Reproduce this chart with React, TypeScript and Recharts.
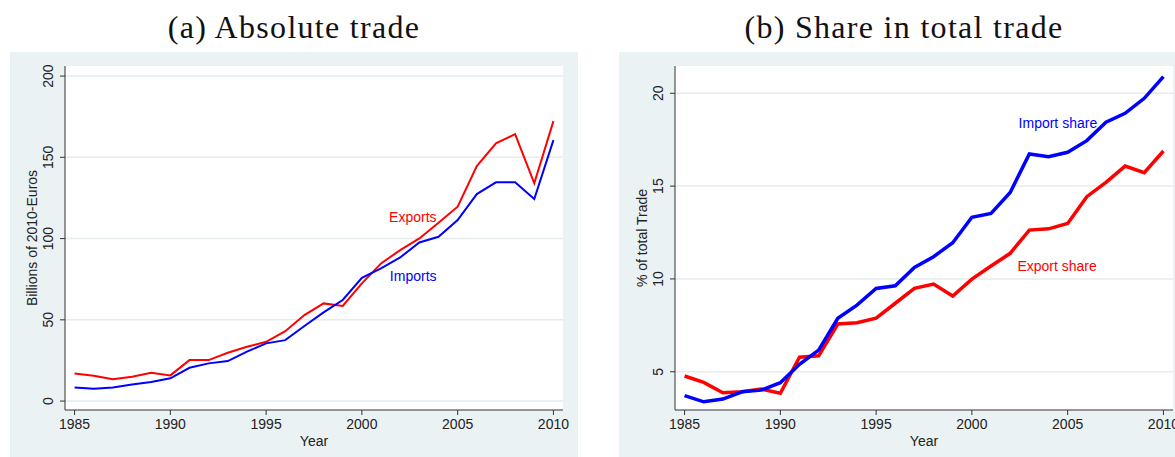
import React from 'react';
import { LineChart, Line, XAxis, YAxis, CartesianGrid, ReferenceDot } from 'recharts';

const years = [1985, 1986, 1987, 1988, 1989, 1990, 1991, 1992, 1993, 1994, 1995, 1996, 1997, 1998, 1999, 2000, 2001, 2002, 2003, 2004, 2005, 2006, 2007, 2008, 2009, 2010];
const exportsBn = [17.0, 15.6, 13.5, 15.0, 17.4, 15.8, 25.2, 25.2, 29.7, 33.4, 36.5, 43.0, 52.9, 60.1, 58.5, 72.4, 84.7, 92.9, 100.1, 109.7, 119.6, 144.6, 158.6, 164.3, 134.0, 172.3];
const importsBn = [8.4, 7.6, 8.4, 10.2, 11.7, 14.0, 20.5, 23.2, 24.6, 30.4, 35.5, 37.5, 46.2, 54.6, 62.2, 75.9, 81.6, 88.4, 97.6, 101.1, 111.4, 127.4, 134.6, 134.6, 124.3, 160.6];
const exportShare = [4.77, 4.43, 3.87, 3.92, 4.07, 3.84, 5.78, 5.86, 7.57, 7.64, 7.89, 8.69, 9.49, 9.72, 9.08, 9.99, 10.7, 11.38, 12.63, 12.7, 12.99, 14.43, 15.2, 16.08, 15.72, 16.89];
const importShare = [3.71, 3.38, 3.53, 3.92, 4.01, 4.41, 5.4, 6.17, 7.88, 8.59, 9.49, 9.63, 10.62, 11.2, 11.95, 13.32, 13.53, 14.66, 16.73, 16.58, 16.82, 17.45, 18.44, 18.92, 19.73, 20.9];
const yearTicks = [1985, 1990, 1995, 2000, 2005, 2010];
const absTicks = [0, 50, 100, 150, 200];
const shareTicks = [5, 10, 15, 20];

const absData = years.map((y, i) => ({ year: y, exp: exportsBn[i], imp: importsBn[i] }));
const shareData = years.map((y, i) => ({ year: y, exp: exportShare[i], imp: importShare[i] }));

const SANS = '"Liberation Sans", Arial, sans-serif';
const SERIF = '"Liberation Serif", "DejaVu Serif", serif';
const PANEL_BG = '#eaf2f3';
const GRID = '#e4ecee';
const AXIS = '#333333';

const RotTick = (props: any) => {
  const { x, y, payload } = props;
  const tx = x - 5;
  return (
    <text x={tx} y={y} transform={`rotate(-90, ${tx}, ${y})`} textAnchor="middle" fontSize={14} fill="#222" fontFamily={SANS}>
      {payload.value}
    </text>
  );
};

const XTick = (props: any) => {
  const { x, y, payload } = props;
  return (
    <text x={x} y={y + 12} textAnchor="middle" fontSize={14} fill="#222" fontFamily={SANS}>
      {payload.value}
    </text>
  );
};

const annot = (value: string, color: string) => (props: any) => {
  const { viewBox } = props;
  const cx = viewBox.x + (viewBox.width || 0) / 2;
  const cy = viewBox.y + (viewBox.height || 0) / 2;
  return (
    <text x={cx} y={cy} dy={5} textAnchor="middle" fontSize={14} fill={color} fontFamily={SANS}>
      {value}
    </text>
  );
};

const titleStyle: React.CSSProperties = {
  position: 'absolute', top: 8, textAlign: 'center', fontFamily: SERIF, fontSize: 32,
  letterSpacing: '1.3px', lineHeight: '38px', color: '#111', whiteSpace: 'nowrap',
};

export default function App() {
  return (
    <div style={{ position: 'absolute', left: 0, top: 0, width: 1175, height: 457, background: 'white', overflow: 'hidden' }}>
      <div style={{ ...titleStyle, left: 0, width: 588 }}>
        (a) Absolute trade
      </div>
      <div style={{ ...titleStyle, left: 633, width: 542 }}>
        (b) Share in total trade
      </div>

      <div style={{ position: 'absolute', left: 10, top: 52, width: 568, height: 405, background: PANEL_BG }}>
        <LineChart width={568} height={405} data={absData} margin={{ top: 14, right: 15, bottom: 17, left: 15 }}>
          <CartesianGrid horizontal={true} vertical={false} fill="#ffffff" stroke={GRID} strokeWidth={1.5} horizontalValues={absTicks} />
          <XAxis dataKey="year" type="number" domain={[1984.5, 2010.5]} ticks={yearTicks} allowDataOverflow
            axisLine={{ stroke: AXIS }} tickLine={{ stroke: AXIS }} tickSize={5} height={30} tick={<XTick />} interval={0} />
          <YAxis type="number" domain={[-5.5, 206.2]} ticks={absTicks} allowDataOverflow width={40}
            axisLine={{ stroke: AXIS }} tickLine={{ stroke: AXIS }} tickSize={5} tickMargin={2} tick={<RotTick />} interval={0} />
          <Line type="linear" dataKey="exp" stroke="#ff0000" strokeWidth={2} dot={false} isAnimationActive={false} />
          <Line type="linear" dataKey="imp" stroke="#0000ff" strokeWidth={2} dot={false} isAnimationActive={false} />
          <ReferenceDot x={2002.66} y={113.4} r={0} fill="none" stroke="none" label={annot('Exports', '#ff0000')} />
          <ReferenceDot x={2002.68} y={76.9} r={0} fill="none" stroke="none" label={annot('Imports', '#0000ff')} />
        </LineChart>
        <div style={{ position: 'absolute', left: 22 - 100, top: 186 - 10, width: 200, height: 20, lineHeight: '20px', textAlign: 'center', transform: 'rotate(-90deg)', fontFamily: SANS, fontSize: 14, color: '#222' }}>
          Billions of 2010-Euros
        </div>
        <div style={{ position: 'absolute', left: 304 - 50, top: 381, width: 100, textAlign: 'center', fontFamily: SANS, fontSize: 14, lineHeight: '16px', color: '#222' }}>
          Year
        </div>
      </div>

      <div style={{ position: 'absolute', left: 619, top: 52, width: 560, height: 405, background: PANEL_BG }}>
        <LineChart width={560} height={405} data={shareData} margin={{ top: 14, right: 6, bottom: 17, left: 16 }}>
          <CartesianGrid horizontal={true} vertical={false} fill="#ffffff" stroke={GRID} strokeWidth={1.5} horizontalValues={shareTicks} />
          <XAxis dataKey="year" type="number" domain={[1984.5, 2010.5]} ticks={yearTicks} allowDataOverflow
            axisLine={{ stroke: AXIS }} tickLine={{ stroke: AXIS }} tickSize={5} height={30} tick={<XTick />} interval={0} />
          <YAxis type="number" domain={[2.94, 21.47]} ticks={shareTicks} allowDataOverflow width={40}
            axisLine={{ stroke: AXIS }} tickLine={{ stroke: AXIS }} tickSize={5} tickMargin={2} tick={<RotTick />} interval={0} />
          <Line type="linear" dataKey="exp" stroke="#ff0000" strokeWidth={3.5} dot={false} isAnimationActive={false} />
          <Line type="linear" dataKey="imp" stroke="#0000ff" strokeWidth={3.5} dot={false} isAnimationActive={false} />
          <ReferenceDot x={2004.49} y={18.38} r={0} fill="none" stroke="none" label={annot('Import share', '#0000ff')} />
          <ReferenceDot x={2004.45} y={10.71} r={0} fill="none" stroke="none" label={annot('Export share', '#ff0000')} />
        </LineChart>
        <div style={{ position: 'absolute', left: 23 - 100, top: 186 - 10, width: 200, height: 20, lineHeight: '20px', textAlign: 'center', transform: 'rotate(-90deg)', fontFamily: SANS, fontSize: 14, color: '#222' }}>
          % of total Trade
        </div>
        <div style={{ position: 'absolute', left: 305 - 50, top: 381, width: 100, textAlign: 'center', fontFamily: SANS, fontSize: 14, lineHeight: '16px', color: '#222' }}>
          Year
        </div>
      </div>
    </div>
  );
}
